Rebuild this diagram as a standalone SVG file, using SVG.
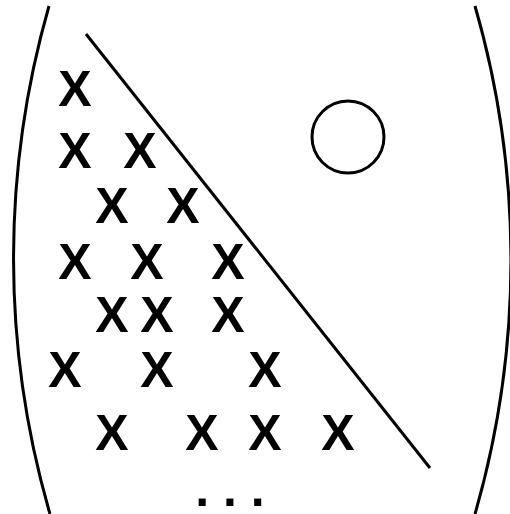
<svg xmlns="http://www.w3.org/2000/svg" width="510" height="514" viewBox="0 0 510 514">
<style>
.ln{fill:none;stroke:#000;stroke-width:3}
.x{font-family:"Liberation Sans",Arial,sans-serif;font-weight:bold;font-size:50px;text-anchor:middle;fill:#000}
</style>
<rect width="510" height="514" fill="#fff"/>
<g id="shapes">
<path id="left-arc" class="ln" d="M49,6 A915,915 0 0 0 50,514"/>
<path id="right-arc" class="ln" d="M475,6 A915,915 0 0 1 475,514"/>
<circle id="circle" class="ln" cx="348" cy="137" r="36"/>
</g>
<g id="connectors">
<line class="ln" x1="86" y1="34" x2="430" y2="468"/>
</g>
<g id="marks">
<text class="x" x="75" y="106">X</text>
<text class="x" x="75" y="168">X</text>
<text class="x" x="140" y="168">X</text>
<text class="x" x="112" y="223">X</text>
<text class="x" x="183" y="223">X</text>
<text class="x" x="75" y="279">X</text>
<text class="x" x="147" y="279">X</text>
<text class="x" x="228" y="279">X</text>
<text class="x" x="112" y="332">X</text>
<text class="x" x="157" y="332">X</text>
<text class="x" x="228" y="332">X</text>
<text class="x" x="65" y="387">X</text>
<text class="x" x="157" y="387">X</text>
<text class="x" x="265" y="387">X</text>
<text class="x" x="112" y="450">X</text>
<text class="x" x="202" y="450">X</text>
<text class="x" x="265" y="450">X</text>
<text class="x" x="338" y="450">X</text>
<text class="x" x="230" y="506">. . .</text>
</g>
</svg>
